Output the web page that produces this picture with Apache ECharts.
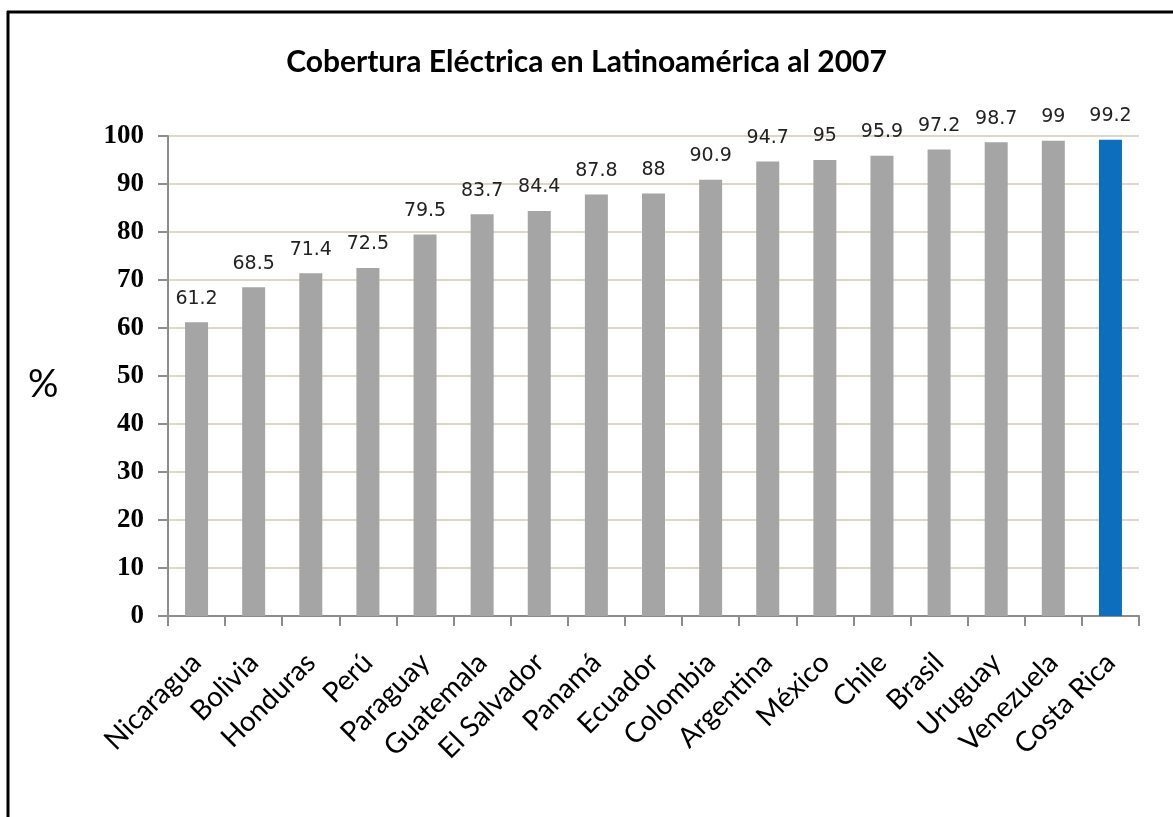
<!DOCTYPE html>
<html>
<head>
<meta charset="utf-8">
<script src="https://cdn.jsdelivr.net/npm/echarts@6/dist/echarts.min.js"></script>
<style>
  html, body { margin: 0; padding: 0; background: #fff; }
  #chart { width: 1173px; height: 817px; }
</style>
</head>
<body>
<div id="chart"></div>
<script>
// Electricity coverage by country, 2007 (%)
const countries = ['Nicaragua', 'Bolivia', 'Honduras', 'Perú', 'Paraguay', 'Guatemala', 'El Salvador',
  'Panamá', 'Ecuador', 'Colombia', 'Argentina', 'México', 'Chile', 'Brasil', 'Uruguay', 'Venezuela', 'Costa Rica'];
const coverage = [61.2, 68.5, 71.4, 72.5, 79.5, 83.7, 84.4, 87.8, 88, 90.9, 94.7, 95, 95.9, 97.2, 98.7, 99, 99.2];
const highlighted = 'Costa Rica';
const yTicks = { min: 0, max: 100, interval: 10 };
const yTitle = '%';

const grayBar = '#a5a5a5';
const blueBar = '#0d6ebd';

const chart = echarts.init(document.getElementById('chart'), null, { renderer: 'canvas' });

chart.setOption({
  backgroundColor: '#ffffff',
  animation: false,
  title: {
    text: 'Cobertura Eléctrica en Latinoamérica al 2007',
    left: 'center',
    top: 42,
    textStyle: { fontFamily: 'Lato', fontWeight: 'bold', fontSize: 30, color: '#000' }
  },
  grid: { left: 168, right: 34, top: 136, bottom: 201 },
  xAxis: {
    type: 'category',
    data: countries,
    axisLine: { lineStyle: { color: '#8c8c8c', width: 2 } },
    axisTick: { show: true, length: 10, lineStyle: { color: '#8c8c8c', width: 2 } },
    axisLabel: {
      rotate: 45, interval: 0, margin: 42,
      fontFamily: 'Lato', fontSize: 28, color: '#000'
    }
  },
  yAxis: {
    type: 'value',
    min: yTicks.min, max: yTicks.max, interval: yTicks.interval,
    axisLine: { show: true, lineStyle: { color: '#8c8c8c', width: 2 } },
    axisTick: { show: true, length: 10, lineStyle: { color: '#8c8c8c', width: 2 } },
    splitLine: { lineStyle: { color: '#dcd8c4', width: 2 } },
    axisLabel: {
      margin: 24,
      fontFamily: 'Liberation Serif', fontWeight: 'bold', fontSize: 27, color: '#000'
    }
  },
  series: [{
    type: 'bar',
    barWidth: 23,
    data: coverage.map((v, i) => ({
      value: v,
      itemStyle: { color: countries[i] === highlighted ? blueBar : grayBar }
    })),
    label: {
      show: true,
      position: 'top',
      distance: 14,
      fontFamily: 'DejaVu Sans', fontSize: 19, color: '#222'
    }
  }],
  graphic: [
    {
      type: 'text', left: 28, top: 366,
      style: { text: yTitle, fontFamily: 'Lato', fontSize: 38, fill: '#000' }
    },
    { type: 'line', shape: { x1: 7, y1: 12, x2: 1173, y2: 12 }, style: { stroke: '#000', lineWidth: 3 } },
    { type: 'line', shape: { x1: 8, y1: 11, x2: 8, y2: 817 }, style: { stroke: '#000', lineWidth: 3 } }
  ]
});
</script>
</body>
</html>
